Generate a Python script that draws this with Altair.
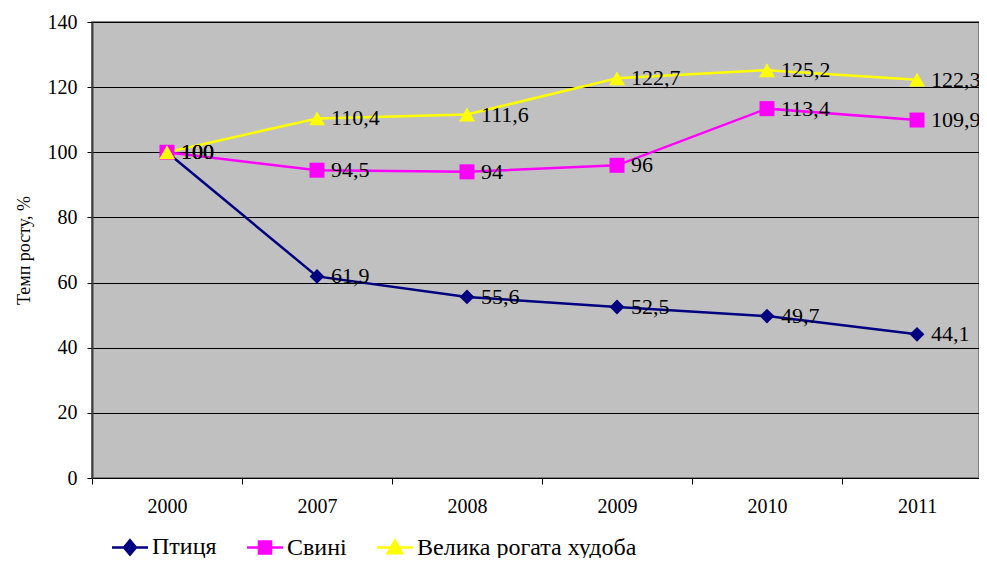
import altair as alt
import pandas as pd

years = ["2000", "2007", "2008", "2009", "2010", "2011"]
series_names = ["Птиця", "Свині", "Велика рогата худоба"]
ptytsia = [100, 61.9, 55.6, 52.5, 49.7, 44.1]
svyni = [100, 94.5, 94, 96, 113.4, 109.9]
vrh = [100, 110.4, 111.6, 122.7, 125.2, 122.3]
colors = ["#000080", "#FF00FF", "#FFFF00"]
shapes = ["diamond", "square", "triangle-up"]
sizes = [220, 225, 256]
y_ticks = [0, 20, 40, 60, 80, 100, 120, 140]

# legend symbols: line + marker (custom paths)
legend_paths = [
    "M-1,0H5M2,-1.2L3,0L2,1.2L1,0Z",
    "M-1,0H5M1,-1H3V1H1Z",
    "M-1,0H5M2,-1.15L3.2,0.95L0.8,0.95Z",
]

rows = []
for name, vals in zip(series_names, [ptytsia, svyni, vrh]):
    for yr, v in zip(years, vals):
        rows.append({"year": yr, "series": name, "value": v,
                     "label": f"{v:g}".replace(".", ",")})
df = pd.DataFrame(rows)

FONT = "Liberation Serif"

x_enc = alt.X(
    "year:N", sort=years,
    scale=alt.Scale(type="band", range=[0, 900], paddingInner=0, paddingOuter=0),
    axis=alt.Axis(title=None, labelAngle=0, tickBand="extent", grid=False,
                  labelFont=FONT, labelFontSize=20, labelColor="black",
                  tickColor="black", tickSize=6, domainColor="black",
                  labelPadding=12),
)
y_enc = alt.Y(
    "value:Q",
    scale=alt.Scale(domain=[0, 140], nice=False, zero=True),
    axis=alt.Axis(values=y_ticks, title="Темп росту, %", grid=True,
                  gridColor="black", gridWidth=1, labelFont=FONT,
                  labelFontSize=20, labelColor="black", tickColor="black",
                  tickSize=5, domainColor="#404040", domainWidth=2,
                  labelPadding=10, titleFont=FONT, titleFontSize=18,
                  titleFontWeight="normal", titleColor="black",
                  titlePadding=14),
)

base = alt.Chart(df)

leg = alt.Legend(title=None, orient="none", legendX=14, legendY=513,
                 direction="horizontal", labelFont=FONT, labelFontSize=24,
                 labelColor="black", symbolSize=144, symbolStrokeWidth=2.5,
                 labelOffset=22, columnPadding=24, labelLimit=400, padding=0,
                 symbolOpacity=1)

legend_layer = base.mark_point(
    filled=True, strokeWidth=0.1, size=1
).encode(
    x=x_enc, y=y_enc,
    fill=alt.Fill("series:N", scale=alt.Scale(domain=series_names, range=colors), legend=leg),
    stroke=alt.Stroke("series:N", scale=alt.Scale(domain=series_names, range=colors), legend=leg),
    shape=alt.Shape("series:N", scale=alt.Scale(domain=series_names, range=legend_paths), legend=leg),
)

lines = base.mark_line(strokeWidth=2.5).encode(
    x=x_enc, y=y_enc,
    color=alt.Color("series:N", scale=alt.Scale(domain=series_names, range=colors), legend=None),
    detail="series:N",
)

point_layers = []
for name, shp, col, sz in zip(series_names, shapes, colors, sizes):
    point_layers.append(
        base.transform_filter(alt.datum.series == name)
        .mark_point(shape=shp, filled=True, size=sz, color=col, opacity=1)
        .encode(x=x_enc, y=y_enc)
    )

labels = base.mark_text(align="left", baseline="middle", dx=14, fontSize=22,
                        font=FONT, color="black").encode(
    x=x_enc, y=y_enc, text="label:N"
)

chart = alt.layer(legend_layer, lines, *point_layers, labels).properties(
    width=887, height=456,
    autosize=alt.AutoSizeParams(type="none"),
    padding={"left": 84, "top": 14, "right": 0, "bottom": 80},
).configure_view(fill="#C0C0C0", stroke="#808080", strokeWidth=2)

chart.save("out.html", embed_options={"renderer": "svg", "actions": False})
